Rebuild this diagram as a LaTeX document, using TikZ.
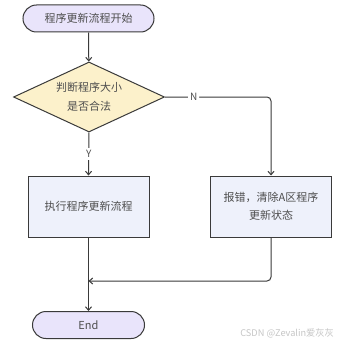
\documentclass[tikz,border=0pt]{standalone}
\usepackage{fontspec}
\setmainfont{Noto Sans CJK SC}
\usetikzlibrary{shapes.geometric,arrows.meta}
\definecolor{termfill}{HTML}{E9E4FB}
\definecolor{decfill}{HTML}{FCF1CB}
\definecolor{boxfill}{HTML}{EEF1FB}
\definecolor{stroke}{HTML}{3A3A3A}
\definecolor{wm}{HTML}{C6C6C6}
\tikzset{
  x=1pt, y=-1pt,
  base/.style={draw=stroke, line width=1pt, text=stroke!90, font=\fontsize{11}{18.5}\selectfont, align=center, inner sep=0pt},
  term/.style={base, fill=termfill, rounded corners=13.5pt, minimum width=131pt, minimum height=27pt},
  dec/.style={base, fill=decfill, diamond, minimum width=151pt, minimum height=70pt, aspect=2.15},
  proc/.style={base, fill=boxfill, minimum width=121pt, minimum height=61pt},
  conn/.style={draw=stroke, line width=1pt, -{Straight Barb[length=3.5pt,width=6pt]}},
  lbl/.style={fill=white, text=stroke!90, font=\fontsize{10}{12}\selectfont, inner sep=2pt}
}
\begin{document}
\begin{tikzpicture}
\useasboundingbox[fill=white] (0,0) rectangle (338,345);
\node[term] (start) at (88.5,18.5) {程序更新流程开始};
\node[dec] (dec) at (89,97) {判断程序大小\\是否合法};
\node[proc] (exec) at (88.5,206.5) {执行程序更新流程};
\node[proc] (err) at (271,206.5) {报错，清除A区程序\\更新状态};
\node[term, minimum width=112pt] (end) at (88.5,325) {End};
\coordinate (merge) at (88.5,281);
\coordinate (rc1) at (271,97);
\coordinate (rc2) at (271,281);
\draw[conn] (start) -- (dec);
\draw[conn] (dec.south) -- node[lbl] {Y} (exec.north);
\draw[conn, rounded corners=4pt] (dec.east) -- node[lbl, pos=0.27] {N} (rc1) -- (err.north);
\draw[conn] (exec.south) -- (end.north);
\draw[conn, rounded corners=4pt] (err.south) -- (rc2) -- (merge);
\node[text=wm, font=\fontsize{9.2}{11}\selectfont, anchor=east, inner sep=0pt] (wmk) at (334,333) {CSDN @Zevalin爱灰灰};
\end{tikzpicture}
\end{document}
